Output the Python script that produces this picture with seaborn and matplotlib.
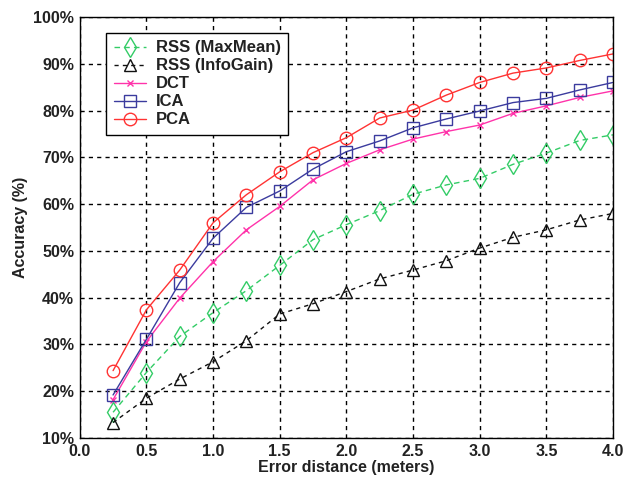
import numpy as np
import pandas as pd
import matplotlib
matplotlib.use('Agg')
import matplotlib.pyplot as plt
from matplotlib.ticker import FuncFormatter, MultipleLocator
import seaborn as sns

# error distance (meters)
distance = [0.25, 0.5, 0.75, 1.0, 1.25, 1.5, 1.75, 2.0,
            2.25, 2.5, 2.75, 3.0, 3.25, 3.5, 3.75, 4.0]

# accuracy (%) per method
rss_maxmean = [15.5, 24.0, 31.7, 36.8, 41.5, 46.9, 52.4, 55.6,
               58.6, 62.1, 64.1, 65.5, 68.5, 70.9, 73.6, 74.8]
rss_infogain = [13.3, 18.5, 22.6, 26.3, 30.8, 36.5, 38.7, 41.3,
                44.0, 45.9, 47.9, 50.6, 52.9, 54.5, 56.6, 58.0]
dct = [18.2, 30.6, 39.9, 47.7, 54.5, 59.5, 65.2, 68.7,
       71.6, 73.9, 75.5, 76.9, 79.4, 81.0, 82.8, 84.2]
ica = [19.2, 31.1, 43.2, 52.7, 59.3, 62.8, 67.5, 71.2,
       73.5, 76.3, 78.2, 79.9, 81.7, 82.6, 84.4, 86.0]
pca = [24.4, 37.4, 45.9, 56.0, 62.0, 66.9, 71.0, 74.2,
       78.4, 80.1, 83.3, 86.0, 88.0, 89.1, 90.7, 92.1]

# name, values, colour, line style, marker, marker size
series = [
    ('RSS (MaxMean)', rss_maxmean, '#33cc66', (0, (4, 3)), 'd', 10),
    ('RSS (InfoGain)', rss_infogain, '#111111', (0, (3, 3)), '^', 9),
    ('DCT', dct, '#ff33aa', '-', 'x', 5),
    ('ICA', ica, '#3b3b9e', '-', 's', 9),
    ('PCA', pca, '#ff3333', '-', 'o', 9),
]

sns.set_style('white')
plt.rcParams['font.family'] = ['Liberation Sans', 'DejaVu Sans']
plt.rcParams['font.weight'] = 'bold'

fig = plt.figure(figsize=(6.23, 4.79), dpi=100)
ax = fig.add_axes([0.128, 0.0856, 0.856, 0.879])

for name, vals, color, ls, mk, ms in series:
    df = pd.DataFrame({'dist': distance, 'acc': vals})
    sns.lineplot(data=df, x='dist', y='acc', ax=ax, color=color,
                 linestyle=ls, linewidth=1.0, marker=mk, markersize=ms,
                 markerfacecolor='none', markeredgecolor=color,
                 markeredgewidth=1.0, label=name)

ax.set_xlim(0, 4)
ax.set_ylim(10, 100)
ax.xaxis.set_major_locator(MultipleLocator(0.5))
ax.yaxis.set_major_locator(MultipleLocator(10))
ax.xaxis.set_major_formatter(FuncFormatter(lambda v, p: f'{v:.1f}'))
ax.yaxis.set_major_formatter(FuncFormatter(lambda v, p: f'{v:.0f}%'))

ax.grid(True, color='black', linestyle=(0, (3, 3)), linewidth=1.0)
for sp in ax.spines.values():
    sp.set_color('black')
    sp.set_linewidth(1.0)
ax.tick_params(axis='both', labelsize=11.5, colors='#222222', length=0, pad=4)
for lbl in ax.get_xticklabels() + ax.get_yticklabels():
    lbl.set_fontweight('bold')

ax.set_xlabel('Error distance (meters)', fontsize=11.5, fontweight='bold',
              color='#222222', labelpad=1)
ax.set_ylabel('Accuracy (%)', fontsize=11.5, fontweight='bold',
              color='#222222', labelpad=4)

leg = ax.legend(loc='upper left', bbox_to_anchor=(0.05, 0.962),
                borderaxespad=0, fancybox=False, framealpha=1,
                edgecolor='black', fontsize=12, handlelength=1.9,
                labelspacing=0.18, borderpad=0.45, handletextpad=0.6)
leg.get_frame().set_linewidth(1.0)
for t in leg.get_texts():
    t.set_fontweight('bold')
    t.set_color('#222222')

fig.savefig('out.png', dpi=100, facecolor='white')
